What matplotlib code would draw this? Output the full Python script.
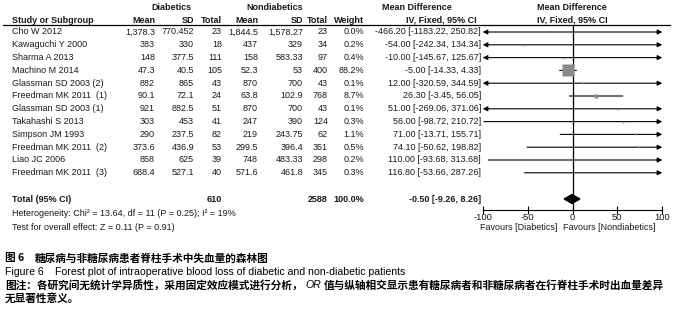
import matplotlib
matplotlib.use("Agg")
import matplotlib.pyplot as plt
from matplotlib.transforms import offset_copy

# table data
studies = ["Cho W 2012", "Kawaguchi Y 2000", "Sharma A 2013", "Machino M 2014",
           "Glassman SD 2003 (2)", "Freedman MK 2011  (1)", "Glassman SD 2003 (1)",
           "Takahashi S 2013", "Simpson JM 1993", "Freedman MK 2011  (2)",
           "Liao JC 2006", "Freedman MK 2011  (3)"]
dia_mean = ["1,378.3", "383", "148", "47.3", "882", "90.1", "921", "303", "290", "373.6", "858", "688.4"]
dia_sd = ["770.452", "330", "377.5", "40.5", "865", "72.1", "882.5", "453", "237.5", "436.9", "625", "527.1"]
dia_n = [23, 18, 111, 105, 43, 24, 51, 41, 82, 53, 39, 40]
non_mean = ["1,844.5", "437", "158", "52.3", "870", "63.8", "870", "247", "219", "299.5", "748", "571.6"]
non_sd = ["1,578.27", "329", "583.33", "53", "700", "102.9", "700", "390", "243.75", "396.4", "483.33", "461.8"]
non_n = [23, 34, 97, 400, 43, 768, 43, 124, 62, 351, 298, 345]
weight = [0.0, 0.2, 0.4, 88.2, 0.1, 8.7, 0.1, 0.3, 1.1, 0.5, 0.2, 0.3]
md = [-466.20, -54.00, -10.00, -5.00, 12.00, 26.30, 51.00, 56.00, 71.00, 74.10, 110.00, 116.80]
ci_lo = [-1183.22, -242.34, -145.67, -14.33, -320.59, -3.45, -269.06, -98.72, -13.71, -50.62, -93.68, -53.66]
ci_hi = [250.82, 134.34, 125.67, 4.33, 344.59, 56.05, 371.06, 210.72, 155.71, 198.82, 313.68, 287.26]
total_dia, total_non, total_weight = 610, 2588, 100.0
total_md, total_lo, total_hi = -0.50, -9.26, 8.26
x_ticks = [-100, -50, 0, 50, 100]

W, H = 689, 316
fig = plt.figure(figsize=(W / 100, H / 100), dpi=100)
tab = fig.add_axes([0, 0, 1, 1])
tab.set_xlim(0, W)
tab.set_ylim(H, 0)
tab.axis("off")

FS = 6.5
TXT = "#1a1a1a"
font = "Liberation Sans"


def row_y(i):
    return 32 + 12.8 * i


def put(x, y, s, ha="right", bold=False, size=FS, **kw):
    tab.text(x, y, s, ha=ha, va="center", fontsize=size, family=font,
             fontweight="bold" if bold else "normal", color=TXT, **kw)


# headers
put(171, 7, "Diabetics", ha="center", bold=True)
put(275, 7, "Nondiabetics", ha="center", bold=True)
put(417, 7, "Mean Difference", ha="center", bold=True)
put(572, 7, "Mean Difference", ha="center", bold=True)
put(12, 20.5, "Study or Subgroup", ha="left", bold=True)
for x, s in [(155, "Mean"), (194, "SD"), (222, "Total"), (258, "Mean"),
             (303, "SD"), (328, "Total"), (364, "Weight"), (477, "IV, Fixed, 95% CI")]:
    put(x, 20.5, s, bold=True)
put(572, 20.5, "IV, Fixed, 95% CI", ha="center", bold=True)
tab.plot([3, 670], [25, 25], color="k", lw=0.9)

# rows
for i, name in enumerate(studies):
    y = row_y(i)
    put(12, y, name, ha="left")
    put(155, y, dia_mean[i])
    put(194, y, dia_sd[i])
    put(222, y, str(dia_n[i]))
    put(258, y, non_mean[i])
    put(303, y, non_sd[i])
    put(328, y, str(non_n[i]))
    put(364, y, f"{weight[i]:.1f}%")
    put(481, y, f"{md[i]:.2f} [{ci_lo[i]:.2f}, {ci_hi[i]:.2f}]")

yt = 199
put(12, yt, "Total (95% CI)", ha="left", bold=True)
put(222, yt, str(total_dia), bold=True)
put(328, yt, str(total_non), bold=True)
put(364, yt, f"{total_weight:.1f}%", bold=True)
put(481, yt, f"{total_md:.2f} [{total_lo:.2f}, {total_hi:.2f}]", bold=True)
put(12, 214, "Heterogeneity: Chi\u00b2 = 13.64, df = 11 (P = 0.25); I\u00b2 = 19%", ha="left")
put(12, 228, "Test for overall effect: Z = 0.11 (P = 0.91)", ha="left")

# forest plot axes
x0, x1 = 482.7, 662.3
ytop, ybot = 25, 210
ax = fig.add_axes([x0 / W, 1 - ybot / H, (x1 - x0) / W, (ybot - ytop) / H])
ax.set_xlim(-100, 100)
ax.set_ylim(ybot, ytop)
ax.patch.set_visible(False)
for s in ["top", "right", "left"]:
    ax.spines[s].set_visible(False)
ax.spines["bottom"].set_linewidth(0.8)
ax.set_yticks([])
ax.set_xticks(x_ticks)
ax.set_xticklabels([str(t) for t in x_ticks], family=font, fontsize=6.8, color=TXT)
ax.tick_params(axis="x", direction="inout", length=6, width=0.8, pad=-1)
ax.axvline(0, color="k", lw=0.9)

for i in range(len(studies)):
    y = row_y(i)
    lo, hi = max(ci_lo[i], -100), min(ci_hi[i], 100)
    style = ("<|" if ci_lo[i] < -100 else "") + "-" + ("|>" if ci_hi[i] > 100 else "")
    ax.annotate("", xy=(hi, y), xytext=(lo, y),
                arrowprops=dict(arrowstyle=style, color="k", lw=0.8,
                                shrinkA=0, shrinkB=0, mutation_scale=7),
                annotation_clip=False)
    if -100 < md[i] < 100 and weight[i] > 0:
        size = 8.6 * (weight[i] / 88.2) ** 0.5
        ax.plot(md[i], y, marker="s", ms=max(size, 1.2), color="#8a8a8a",
                mec="none", zorder=4, clip_on=False)

ax.fill([total_lo, total_md, total_hi, total_md], [yt, yt - 4.5, yt, yt + 4.5],
        color="k", zorder=5, clip_on=False)

put(557, 227.5, "Favours [Diabetics]")
put(563, 227.5, "Favours [Nondiabetics]", ha="left")

# captions
cjk = ["Noto Sans CJK SC", "DejaVu Sans"]
CS = 7.7
tab.text(5, 258.5, "图 6", ha="left", va="center", fontsize=CS, family=cjk, fontweight="bold", color="k")
tab.text(35, 258.5, "糖尿病与非糖尿病患者脊柱手术中失血量的森林图", ha="left", va="center",
         fontsize=CS, family=cjk, fontweight="bold", color="k")
tab.text(5, 272, "Figure 6", ha="left", va="center", fontsize=7.6, family=font, color="k")
tab.text(55, 272, "Forest plot of intraoperative blood loss of diabetic and non-diabetic patients",
         ha="left", va="center", fontsize=7.6, family=font, color="k")

r = fig.canvas.get_renderer()
t1 = tab.text(5, 285.5, "图注：各研究间无统计学异质性，采用固定效应模式进行分析，", ha="left", va="center",
              fontsize=CS, family=cjk, fontweight="bold", color="k")
w1 = t1.get_window_extent(r).width
t2 = tab.text(5, 285.5, "OR", ha="left", va="center", fontsize=7.6, family=font, style="italic",
              color="k", transform=offset_copy(tab.transData, fig, x=w1 + 3, units="dots"))
w2 = t2.get_window_extent(r).width
tab.text(5, 285.5, "值与纵轴相交显示患有糖尿病者和非糖尿病者在行脊柱手术时出血量差异", ha="left", va="center",
         fontsize=CS, family=cjk, fontweight="bold", color="k",
         transform=offset_copy(tab.transData, fig, x=w1 + w2 + 6, units="dots"))
tab.text(5, 298, "无显著性意义。", ha="left", va="center", fontsize=CS, family=cjk,
         fontweight="bold", color="k")

fig.savefig("out.png", dpi=100)
